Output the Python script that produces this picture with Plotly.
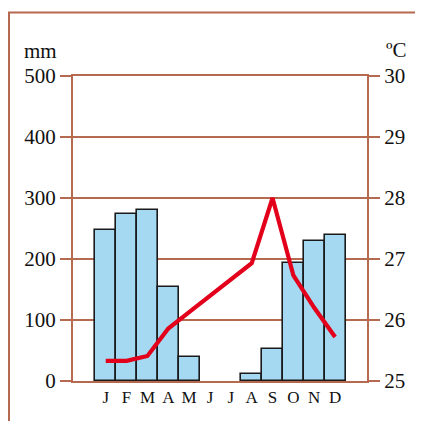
import plotly.graph_objects as go

months = ["J", "F", "M", "A", "M", "J", "J", "A", "S", "O", "N", "D"]
month_idx = list(range(12))
precip_mm = [248, 274, 280, 154, 40, 0, 0, 11, 52, 194, 230, 239]
temp_c = [25.33, 25.33, 25.41, 25.86, 26.13, 26.39, 26.66, 26.93, 28.0, 26.73, 26.2, 25.72]
mm_ticks = [0, 100, 200, 300, 400, 500]
c_ticks = [25, 26, 27, 28, 29, 30]

BROWN = "#b5694f"
FONT = "Liberation Serif"

bar_vals = [v if v > 0 else None for v in precip_mm]

fig = go.Figure()
fig.add_trace(go.Bar(
    x=month_idx, y=bar_vals, width=1,
    marker=dict(color="#a5d8f1", line=dict(color="#1a1a1a", width=1.6)),
    yaxis="y", showlegend=False,
))
fig.add_trace(go.Scatter(
    x=month_idx, y=temp_c, mode="lines",
    line=dict(color="#e2001a", width=4.2),
    yaxis="y2", showlegend=False,
))

fig.update_layout(
    width=415, height=413,
    margin=dict(l=65, r=56, t=67.5, b=40),
    paper_bgcolor="white", plot_bgcolor="white",
    bargap=0,
    font=dict(family=FONT, color="#111111"),
    xaxis=dict(
        range=[-1.57, 12.53], tickvals=month_idx, ticktext=months,
        showgrid=False, zeroline=False, showline=True, mirror=True,
        linecolor=BROWN, linewidth=2, ticks="",
        tickfont=dict(family=FONT, size=17, color="#111111"),
        fixedrange=True,
    ),
    yaxis=dict(
        range=[0, 500], tickvals=mm_ticks,
        showgrid=True, gridcolor=BROWN, gridwidth=1.6,
        zeroline=False, showline=True, linecolor=BROWN, linewidth=2,
        ticks="outside", ticklen=11, tickcolor=BROWN, tickwidth=2,
        tickfont=dict(family=FONT, size=21, color="#111111"),
    ),
    yaxis2=dict(
        range=[25, 30], tickvals=c_ticks, overlaying="y", side="right",
        showgrid=False, zeroline=False, showline=True, linecolor=BROWN, linewidth=2,
        ticks="outside", ticklen=11, tickcolor=BROWN, tickwidth=2,
        tickfont=dict(family=FONT, size=21, color="#111111"),
    ),
    shapes=[dict(
        type="rect", xref="paper", yref="paper",
        x0=-0.2177, x1=1.4, y0=-0.4, y1=1.2079,
        line=dict(color=BROWN, width=2), layer="below",
    )],
    annotations=[
        dict(text="mm", xref="paper", yref="paper", x=-0.112, y=1.035,
             xanchor="center", yanchor="bottom", showarrow=False,
             font=dict(family=FONT, size=21, color="#111111")),
        dict(text="ºC", xref="paper", yref="paper", x=1.099, y=1.04,
             xanchor="center", yanchor="bottom", showarrow=False,
             font=dict(family=FONT, size=21, color="#111111")),
    ],
)

fig.write_html("out.html")
